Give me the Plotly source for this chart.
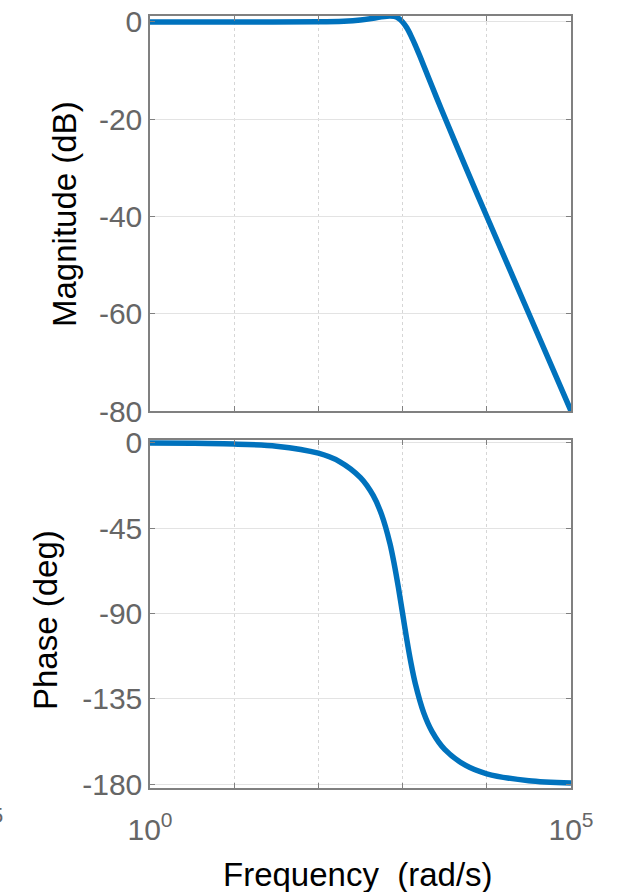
import plotly.graph_objects as go
from plotly.subplots import make_subplots

# Frequency response samples (rad/s)
mag_freq = [1, 10, 100, 200, 316, 447, 562, 708, 794, 891, 1000, 1122, 1259,
            1413, 1585, 1778, 1995, 2512, 3162, 5623, 10000, 31623, 100000]
mag_db = [0.0, 0.0, 0.04, 0.17, 0.41, 0.76, 1.06, 1.25, 1.15, 0.78, 0.0, -1.2,
          -2.85, -4.75, -6.8, -8.94, -11.1, -15.4, -19.6, -29.9, -40.0, -60.0, -80.0]

phase_freq = [1, 3.16, 10, 31.6, 100, 178, 316, 447, 562, 708, 794, 891, 1000,
              1122, 1259, 1413, 1778, 2239, 3162, 5623, 10000, 31623, 100000]
phase_deg = [-0.05, -0.17, -0.54, -1.7, -5.4, -9.8, -18.3, -27.7, -37.7, -53.1,
             -63.7, -76.2, -90.0, -103.8, -116.3, -126.9, -142.3, -152.3, -161.7,
             -170.2, -174.6, -178.3, -179.5]

decade_vals = [1, 10, 100, 1000, 10000, 100000]
decade_text = ["10<sup>0</sup>", "", "", "", "", "10<sup>5</sup>"]
mag_ticks = [0, -20, -40, -60, -80]
mag_tick_text = ["0", "-20", "-40", "-60", "-80"]
phase_ticks = [0, -45, -90, -135, -180]
phase_tick_text = ["0", "-45", "-90", "-135", "-180"]

W, H = 621, 892
ML, MR, MT, MB = 150, 50, 16, 104
PW, PH = W - ML - MR, H - MT - MB


def py(pixel_y):
    return (H - MB - pixel_y) / PH


def px(pixel_x):
    return (pixel_x - ML) / PW


LINE = "#0072BD"
TICK_FONT = dict(family="Liberation Sans, Arial, sans-serif", size=30, color="#666666")
TITLE_FONT = dict(family="Liberation Sans, Arial, sans-serif", size=33, color="#000000")

fig = make_subplots(rows=2, cols=1, vertical_spacing=0.0)

fig.add_trace(go.Scatter(x=mag_freq, y=mag_db, mode="lines",
                         line=dict(color=LINE, width=5.5, shape="spline", smoothing=0.8),
                         showlegend=False), row=1, col=1)
fig.add_trace(go.Scatter(x=phase_freq, y=phase_deg, mode="lines",
                         line=dict(color=LINE, width=5.5, shape="spline", smoothing=0.8),
                         showlegend=False), row=2, col=1)

axis_common = dict(showline=True, linecolor="#808080", linewidth=1.5, mirror="ticks",
                   ticks="inside", ticklen=5, tickcolor="#808080", tickwidth=1,
                   zeroline=False, tickfont=TICK_FONT, automargin=False)

fig.update_layout(
    width=W, height=H,
    margin=dict(l=ML, r=MR, t=MT, b=MB, autoexpand=False),
    plot_bgcolor="white", paper_bgcolor="white",
    xaxis=dict(type="log", range=[0, 5], domain=[0, 1], anchor="y",
               tickvals=decade_vals, ticktext=[""] * len(decade_vals),
               showgrid=True, gridcolor="#d6d6d6", griddash="dot", gridwidth=1,
               **axis_common),
    yaxis=dict(range=[-80, 1.23], domain=[py(411), 1], anchor="x",
               tickvals=mag_ticks, ticktext=mag_tick_text,
               showgrid=True, gridcolor="#e3e3e3", gridwidth=1, **axis_common),
    xaxis2=dict(type="log", range=[0, 5], domain=[0, 1], anchor="y2",
                tickvals=decade_vals, ticktext=decade_text, ticklabelstandoff=14,
                showgrid=True, gridcolor="#d6d6d6", griddash="dot", gridwidth=1,
                **axis_common),
    yaxis2=dict(range=[-182.1, 1.58], domain=[0, py(440)], anchor="x2",
                tickvals=phase_ticks, ticktext=phase_tick_text,
                showgrid=True, gridcolor="#e3e3e3", gridwidth=1, **axis_common),
)

fig.add_annotation(text="Magnitude (dB)", textangle=-90, xref="paper", yref="paper",
                   x=px(64), y=py(214), xanchor="center", yanchor="middle",
                   showarrow=False, font=TITLE_FONT)
fig.add_annotation(text="Phase (deg)", textangle=-90, xref="paper", yref="paper",
                   x=px(45), y=py(620), xanchor="center", yanchor="middle",
                   showarrow=False, font=TITLE_FONT)
fig.add_annotation(text="Frequency\u00a0 (rad/s)", xref="paper", yref="paper",
                   x=px(358), y=py(874), xanchor="center", yanchor="middle",
                   showarrow=False, font=TITLE_FONT)
fig.add_annotation(text="5", xref="paper", yref="paper",
                   x=px(-3), y=py(816), xanchor="center", yanchor="middle",
                   showarrow=False,
                   font=dict(family="Liberation Sans, Arial, sans-serif", size=22,
                             color="#666666"))

fig.write_html("out.html")
